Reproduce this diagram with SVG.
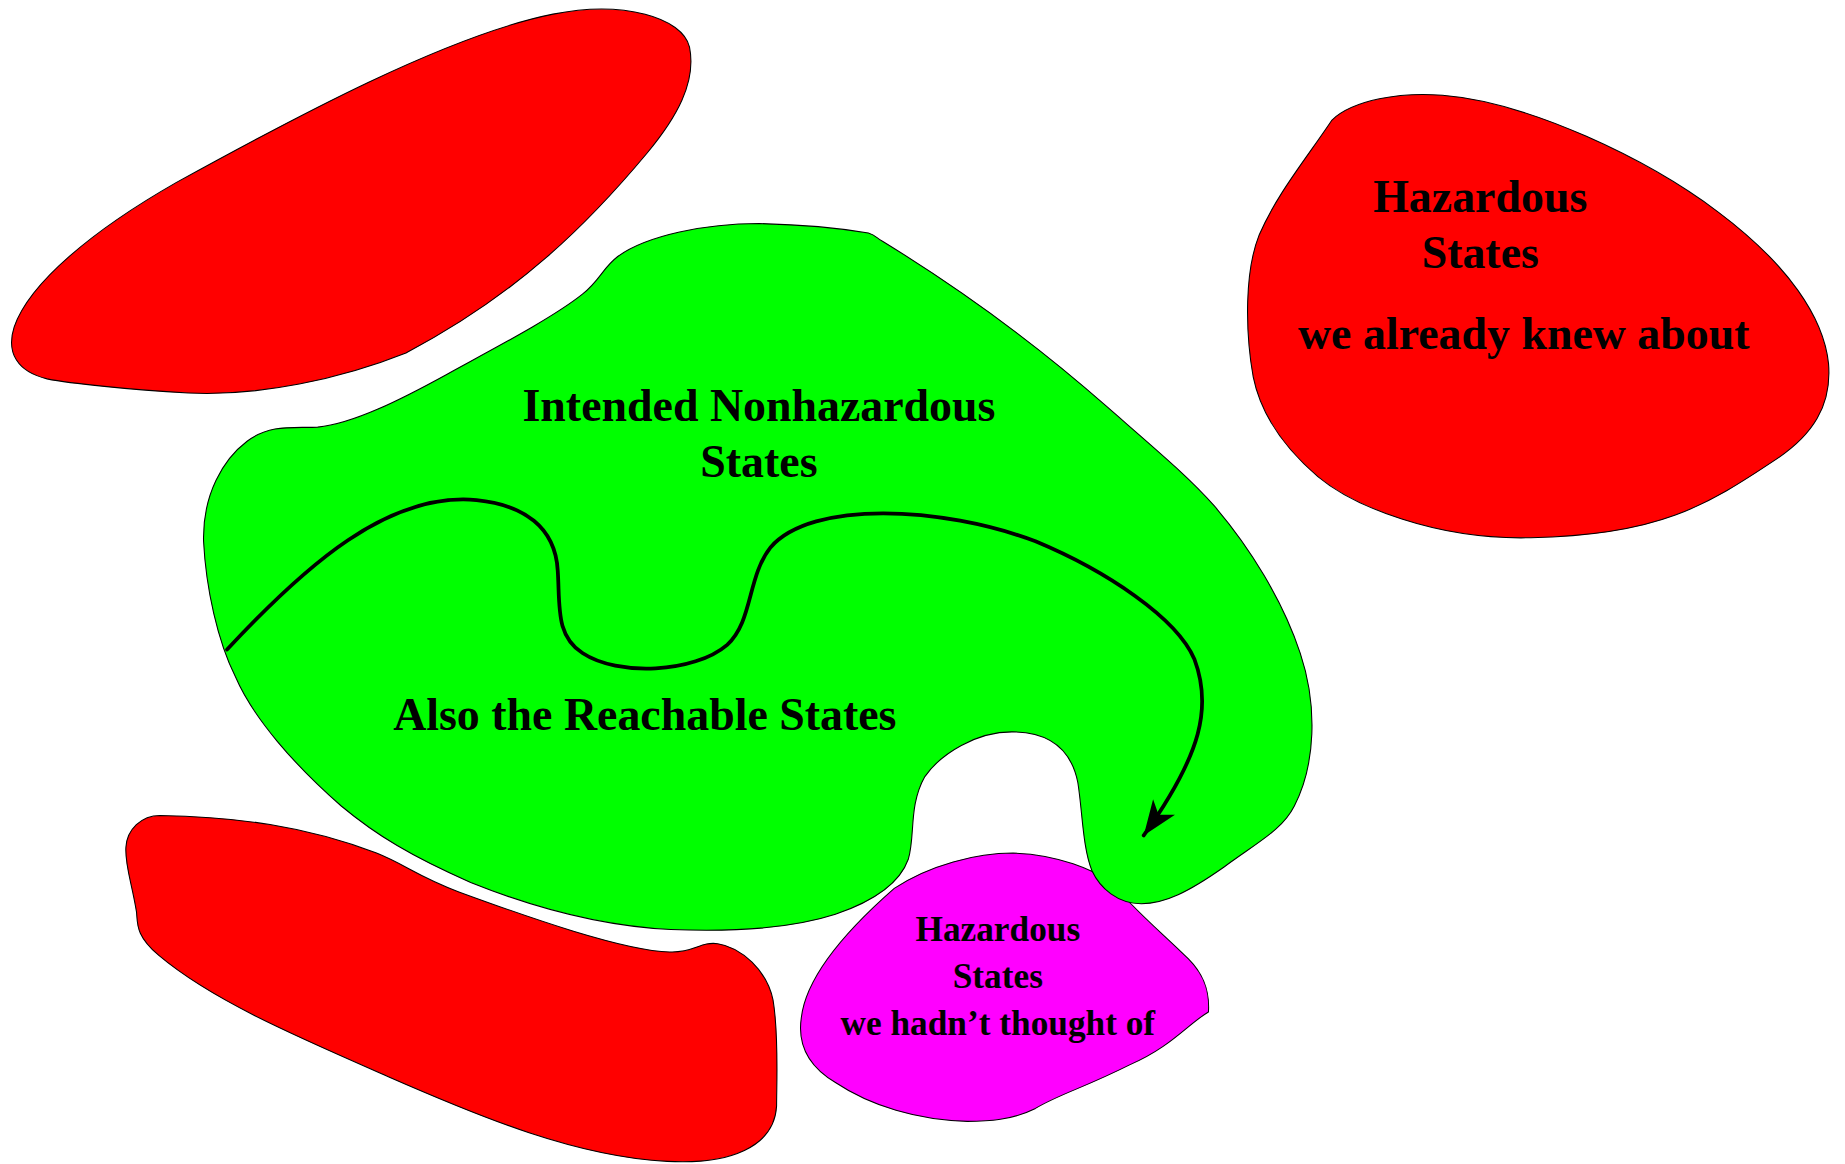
<svg xmlns="http://www.w3.org/2000/svg" width="1845" height="1164" viewBox="0 0 1845 1164">
<style>
.blob{stroke:#000;stroke-width:0.9;stroke-linejoin:round}
.red{fill:#ff0000}
.green{fill:#00ff00}
.mag{fill:#ff00ff}
.lbl{font-family:"Liberation Serif","Times New Roman",serif;font-weight:bold;fill:#000;text-anchor:middle}
.big{font-size:39px}
.small{font-size:30px}
.path{fill:none;stroke:#000;stroke-width:3.2;stroke-linecap:round}
</style>
<defs>
<marker id="arrow" markerUnits="userSpaceOnUse" markerWidth="40" markerHeight="40" viewBox="-30 -15 35 30" refX="0" refY="0" orient="auto">
<path d="M0,0 L-26,-10 L-19,0 L-26,10 Z" fill="#000"/>
</marker>
</defs>
<rect width="1845" height="1164" fill="#fff"/>
<g transform="scale(1.17666)">
<g id="hazard-top-left">
<path class="blob red" d="M 345,300 C 290,322 220,337 160,334 C 110,331 60,326 40,322 C 15,316 5,300 12,278 C 25,240 80,195 150,155 C 250,100 380,30 470,12 C 530,0 580,15 586,40 C 592,70 575,100 550,130 C 500,190 440,250 345,300 Z"/>
</g>
<g id="hazard-known">
<path class="blob red" d="M 1132,102 C 1150,85 1190,78 1226,81 C 1300,87 1400,135 1460,180 C 1520,225 1550,270 1554,309 C 1557,345 1540,370 1510,390 C 1450,430 1410,455 1301,457 C 1220,459 1150,430 1120,405 C 1085,375 1070,345 1065,320 C 1058,280 1058,230 1070,200 C 1085,165 1110,135 1132,102 Z"/>
<text class="lbl big" x="1258" y="180">Hazardous</text>
<text class="lbl big" x="1258" y="228">States</text>
<text class="lbl big" x="1295" y="297">we already knew about</text>
</g>
<g id="hazard-bottom-left">
<path class="blob red" d="M 136,693 C 200,694 260,702 320,725 C 345,735 355,745 390,758 C 450,780 530,808 569,809 C 590,810 595,800 610,802 C 630,805 652,825 657,850 C 662,880 660,920 660,940 C 658,975 620,990 567,987 C 490,983 410,950 330,915 C 250,880 180,850 135,812 C 115,795 117,785 116,775 C 112,750 106,735 107,720 C 108,705 120,693 136,693 Z"/>
</g>
<g id="hazard-unthought">
<path class="blob mag" d="M 861,725 C 900,726 930,740 945,750 C 960,770 990,795 1010,815 C 1025,830 1028,845 1027,860 C 1010,870 995,890 960,905 C 920,925 900,930 880,942 C 860,952 840,953 822,953 C 780,952 740,940 710,920 C 685,905 678,885 681,865 C 685,830 720,790 760,755 C 790,735 830,725 861,725 Z"/>
<text class="lbl small" x="848" y="800">Hazardous</text>
<text class="lbl small" x="848" y="840">States</text>
<text class="lbl small" x="848" y="880">we hadn’t thought of</text>
</g>
<g id="intended-nonhazardous">
<path class="blob green" d="M 738,198 C 745,200 745,203 750,205 C 820,248 880,292 940,345 C 980,380 1010,405 1032,430 C 1062,465 1090,510 1105,555 C 1120,600 1118,650 1100,685 C 1090,705 1070,715 1040,737 C 1010,758 990,768 970,768 C 950,768 935,755 928,740 C 920,720 920,690 916,665 C 910,635 890,622 860,622 C 830,622 800,640 786,660 C 772,685 778,710 772,730 C 765,750 745,765 710,777 C 670,790 620,792 570,790 C 510,787 450,770 400,750 C 350,728 320,710 290,685 C 250,650 215,610 200,575 C 185,545 175,500 173,460 C 172,420 190,390 210,375 C 230,360 250,364 270,363 C 300,360 340,340 380,318 C 420,296 470,270 495,250 C 510,238 512,228 525,218 C 550,200 600,190 645,190 C 690,191 720,195 738,198 Z"/>
<text class="lbl big" x="645" y="358">Intended Nonhazardous</text>
<text class="lbl big" x="645" y="405">States</text>
<text class="lbl big" x="548" y="620">Also the Reachable States</text>
</g>
<g id="connectors">
<path class="path" marker-end="url(#arrow)" d="M 193,552 C 260,480 330,418 405,425 C 445,429 472,448 474,485 C 476,515 472,540 495,555 C 525,575 590,572 618,548 C 640,528 635,490 655,465 C 690,425 800,430 880,460 C 940,485 1000,525 1015,560 C 1030,600 1022,640 972,710"/>
</g>
</g>
</svg>
